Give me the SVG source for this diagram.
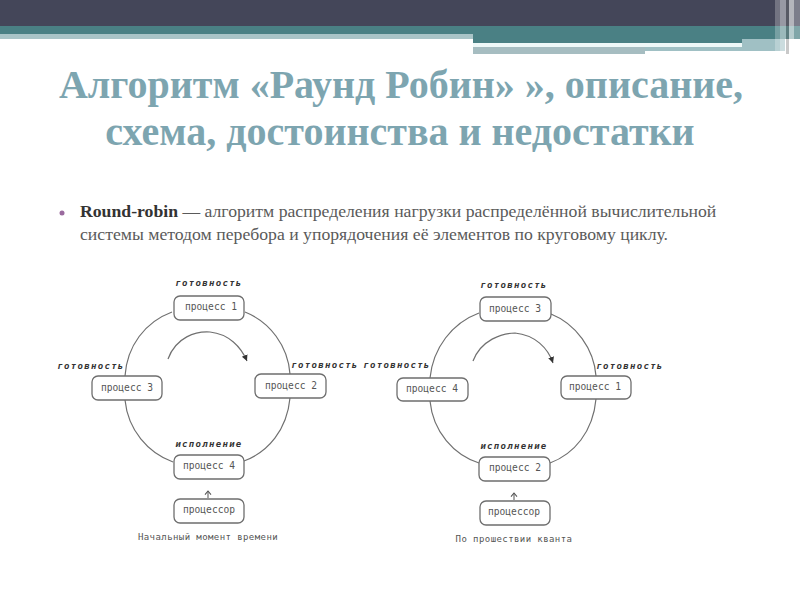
<svg xmlns="http://www.w3.org/2000/svg" width="800" height="600" viewBox="0 0 800 600">
<style>
.box{fill:#fff;stroke:#6e6e6e;stroke-width:1.3}
.arc{fill:none;stroke:#707070;stroke-width:1.2}
.t{font-family:"DejaVu Sans Mono",monospace;font-size:9.6px;fill:#555;text-anchor:middle}
.s{font-family:"DejaVu Sans Mono",monospace;font-size:9px;font-weight:bold;font-style:italic;fill:#333;text-anchor:middle;letter-spacing:1.3px}
.c{font-family:"DejaVu Sans Mono",monospace;font-size:9px;fill:#555;text-anchor:middle;letter-spacing:.42px}
.h{font-family:"Liberation Serif",serif;font-size:40px;font-weight:bold;fill:#7da5b0;text-anchor:middle}
.b{font-family:"Liberation Serif",serif;font-size:17.7px;fill:#5a5a5a}
</style>
<defs>
<marker id="a" markerWidth="8" markerHeight="8" refX="5" refY="3" orient="auto"><path d="M0 .5L5 3L0 5.5z" fill="#333"/></marker>
<marker id="o" markerWidth="8" markerHeight="8" refX="4" refY="3" orient="auto"><path d="M1 .5L4 3L1 5.5" fill="none" stroke="#555" stroke-width=".9"/></marker>
</defs>
<rect width="800" height="600" fill="#fff"/>
<g id="header">
<rect width="800" height="26" fill="#444659"/>
<rect y="26" width="800" height="13" fill="#4a8084"/>
<rect y="34" width="473" height="5" fill="#a9c4c7"/>
<rect x="473" y="39" width="312" height="12" fill="#a0c0c4"/>
<rect x="473" y="39" width="269" height="4" fill="#4a8084"/>
<rect x="473" y="43" width="269" height="4" fill="#eef8f8"/>
<rect x="473" y="47" width="172" height="7" fill="#a6bdc1"/>
<rect x="645" y="51" width="140" height="3" fill="#fff"/>
<rect x="775" width="5" height="52" fill="#fff" opacity=".25"/>
<rect x="780" width="6" height="54" fill="#fff" opacity=".45"/>
<rect x="786" width="3" height="54" fill="#777" opacity=".4"/>
<rect x="789" width="5" height="52" fill="#fff" opacity=".6"/>
<rect x="794" width="6" height="52" fill="#fff" opacity=".3"/>
</g>
<text class="h" x="401" y="98">Алгоритм «Раунд Робин» », описание,</text>
<text class="h" x="400" y="145">схема, достоинства и недостатки</text>
<circle cx="62" cy="213" r="2.5" fill="#9a6a9e"/>
<text class="b" x="80" y="217"><tspan font-weight="bold" fill="#333">Round-robin</tspan> — алгоритм распределения нагрузки распределённой вычислительной</text>
<text class="b" x="80" y="240">системы методом перебора и упорядочения её элементов по круговому циклу.</text>
<g id="connectors">
<path class="arc" d="M172 312C145 322 127 346 125 376M245 312C270 322 288 346 290 374M125 400C128 430 148 453 173 462M290 398C287 430 268 452 244 461"/>
<path class="arc" d="M168 359C176 337 196 331 210 332C229 334 241 347 247 361" marker-end="url(#a)"/>
<path class="arc" d="M208 498V491" marker-end="url(#o)"/>
<path class="arc" d="M479 313C452 323 433 348 430 378M551 314C576 324 594 349 596 376M430 401C433 432 454 455 479 463M596 399C593 432 574 454 550 463"/>
<path class="arc" d="M473 361C481 340 502 333 515 333C535 335 548 348 553 363" marker-end="url(#a)"/>
<path class="arc" d="M514 500V493" marker-end="url(#o)"/>
</g>
<g id="l-p1"><rect class="box" x="174" y="296" width="70" height="24" rx="6"/><text class="t" x="211" y="310">процесс 1</text><text class="s" x="209" y="286">готовность</text></g>
<g id="l-p2"><rect class="box" x="255" y="374" width="71" height="24" rx="6"/><text class="t" x="291" y="389">процесс 2</text><text class="s" x="325" y="368">готовность</text></g>
<g id="l-p3"><rect class="box" x="92" y="376" width="70" height="24" rx="6"/><text class="t" x="127" y="391">процесс 3</text><text class="s" x="91" y="369">готовность</text></g>
<g id="l-p4"><rect class="box" x="174" y="455" width="70" height="24" rx="6"/><text class="t" x="209" y="469">процесс 4</text><text class="s" x="209" y="447">исполнение</text></g>
<g id="l-cpu"><rect class="box" x="174" y="499" width="70" height="24" rx="6"/><text class="t" x="209" y="513">процессор</text></g>
<text class="c" x="208" y="540">Начальный момент времени</text>
<g id="r-p3"><rect class="box" x="480" y="297" width="71" height="24" rx="6"/><text class="t" x="515" y="312">процесс 3</text><text class="s" x="514" y="288">готовность</text></g>
<g id="r-p1"><rect class="box" x="561" y="376" width="70" height="23" rx="6"/><text class="t" x="595" y="390">процесс 1</text><text class="s" x="630" y="369">готовность</text></g>
<g id="r-p4"><rect class="box" x="397" y="378" width="71" height="23" rx="6"/><text class="t" x="432" y="392">процесс 4</text><text class="s" x="397" y="368">готовность</text></g>
<g id="r-p2"><rect class="box" x="479" y="457" width="71" height="24" rx="6"/><text class="t" x="515" y="471">процесс 2</text><text class="s" x="514" y="449">исполнение</text></g>
<g id="r-cpu"><rect class="box" x="480" y="501" width="70" height="24" rx="6"/><text class="t" x="514" y="515">процессор</text></g>
<text class="c" x="514" y="542">По прошествии кванта</text>
</svg>
